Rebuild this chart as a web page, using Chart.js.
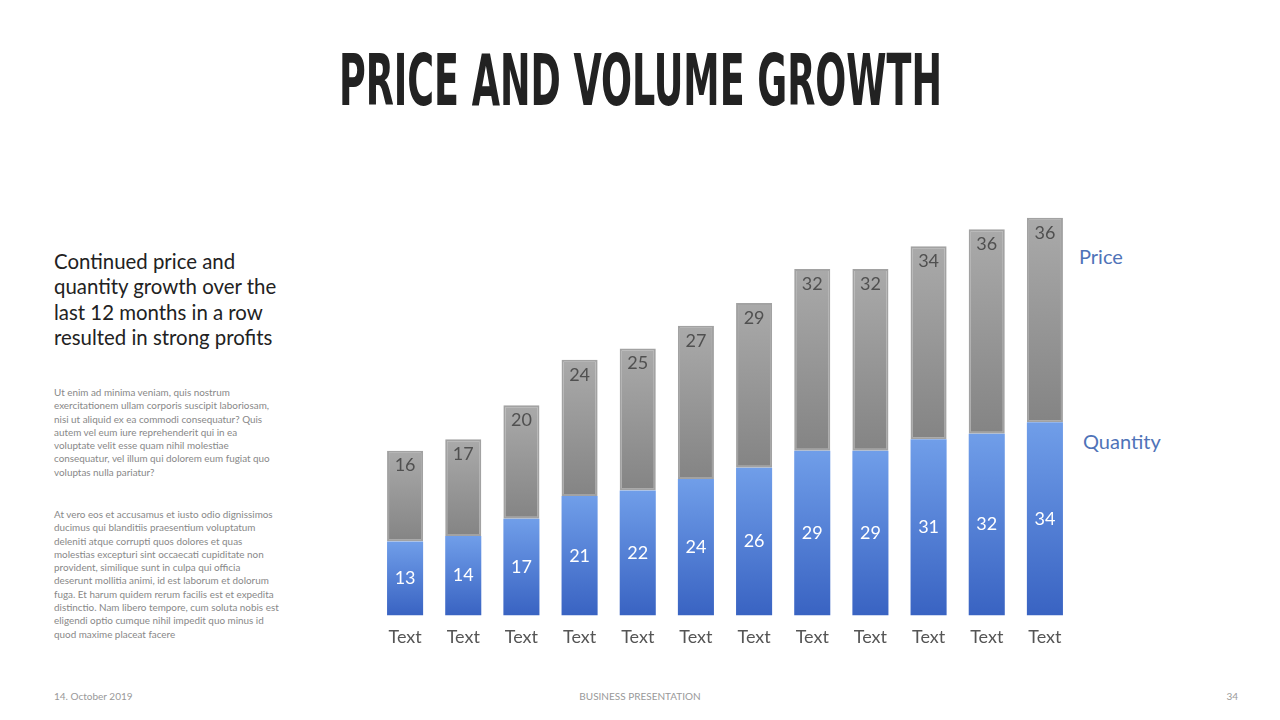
<!DOCTYPE html>
<html>
<head>
<meta charset="utf-8">
<script src="https://cdn.jsdelivr.net/npm/chart.js@4.4.0/dist/chart.umd.min.js"></script>
<style>
  body { margin: 0; width: 1280px; height: 720px; background: #fff; position: relative; overflow: hidden; font-family: Lato, "Open Sans", sans-serif; }
  #title { position: absolute; top: 44px; left: 0; width: 1280px; text-align: center; }
  #title span { display: inline-block; font-family: "Liberation Sans Narrow", "DejaVu Sans Condensed", sans-serif; font-weight: bold; font-size: 72px; color: #222; line-height: 72px; transform-origin: center center; white-space: nowrap; }
  #lead { position: absolute; left: 54px; top: 249px; font-size: 20.4px; line-height: 25.3px; color: #222; white-space: nowrap; }
  .body { position: absolute; left: 54px; font-size: 9.9px; line-height: 13.3px; color: #888; white-space: nowrap; }
  .foot { position: absolute; top: 690px; font-size: 10px; color: #999; }
  .legend { position: absolute; font-size: 20px; color: #4f73b8; }
  #wrap { position: absolute; left: 376px; top: 161px; width: 698px; height: 498px; }
</style>
</head>
<body>
<div id="title"><span>PRICE AND VOLUME GROWTH</span></div>

<div id="lead">Continued price and<br>quantity growth over the<br>last 12 months in a row<br>resulted in strong profits</div>

<div class="body" style="top:386px">Ut enim ad minima veniam, quis nostrum<br>exercitationem ullam corporis suscipit laboriosam,<br>nisi ut aliquid ex ea commodi consequatur? Quis<br>autem vel eum iure reprehenderit qui in ea<br>voluptate velit esse quam nihil molestiae<br>consequatur, vel illum qui dolorem eum fugiat quo<br>voluptas nulla pariatur?</div>

<div class="body" style="top:508px">At vero eos et accusamus et iusto odio dignissimos<br>ducimus qui blanditiis praesentium voluptatum<br>deleniti atque corrupti quos dolores et quas<br>molestias excepturi sint occaecati cupiditate non<br>provident, similique sunt in culpa qui officia<br>deserunt mollitia animi, id est laborum et dolorum<br>fuga. Et harum quidem rerum facilis est et expedita<br>distinctio. Nam libero tempore, cum soluta nobis est<br>eligendi optio cumque nihil impedit quo minus id<br>quod maxime placeat facere</div>

<div class="legend" style="left:1079px; top:244px">Price</div>
<div class="legend" style="left:1083px; top:429px">Quantity</div>

<div id="wrap"><canvas id="myChart"></canvas></div>

<div class="foot" style="left:54px">14. October 2019</div>
<div class="foot" style="left:0; width:1280px; text-align:center">BUSINESS PRESENTATION</div>
<div class="foot" style="right:42px">34</div>

<script>
const labels = ['Text', 'Text', 'Text', 'Text', 'Text', 'Text', 'Text', 'Text', 'Text', 'Text', 'Text', 'Text'];
const quantity = [13, 14, 17, 21, 22, 24, 26, 29, 29, 31, 32, 34];
const price = [16, 17, 20, 24, 25, 27, 29, 32, 32, 34, 36, 36];

// squeeze the title into the width of the original
const t = document.querySelector('#title span');
t.style.transform = 'scaleX(' + (603 / t.offsetWidth) + ')';

// each bar segment gets its own vertical gradient
function segGradient(stops) {
    return function (context) {
        const chart = context.chart;
        const y = chart.scales.y;
        if (!chart.chartArea || !y || context.dataIndex === undefined) return stops[0];
        const i = context.dataIndex;
        let lo = 0, hi = quantity[i];
        if (context.datasetIndex === 1) { lo = quantity[i]; hi = quantity[i] + price[i]; }
        const g = chart.ctx.createLinearGradient(0, y.getPixelForValue(hi), 0, y.getPixelForValue(lo));
        g.addColorStop(0, stops[0]);
        g.addColorStop(1, stops[1]);
        return g;
    };
}

const barLabels = {
    id: 'barLabels',
    afterDatasetsDraw(chart) {
        const ctx = chart.ctx;
        ctx.save();
        ctx.font = '18px Lato';
        ctx.textAlign = 'center';
        ctx.textBaseline = 'middle';
        chart.getDatasetMeta(0).data.forEach((bar, i) => {
            ctx.fillStyle = '#ffffff';
            ctx.fillText(quantity[i], bar.x, (bar.y + bar.base) / 2);
        });
        chart.getDatasetMeta(1).data.forEach((bar, i) => {
            ctx.fillStyle = '#505050';
            ctx.fillText(price[i], bar.x, bar.y + 15);
        });
        ctx.restore();
    }
};

new Chart(document.getElementById('myChart'), {
    type: 'bar',
    data: {
        labels: labels,
        datasets: [{
            label: 'Quantity',
            data: quantity,
            backgroundColor: segGradient(['#709ee9', '#3963c2']),
            borderWidth: 0
        }, {
            label: 'Price',
            data: price,
            backgroundColor: segGradient(['#aaaaaa', '#848484']),
            borderColor: '#a2a2a2',
            borderWidth: 2,
            borderSkipped: false
        }]
    },
    options: {
        responsive: true,
        maintainAspectRatio: false,
        animation: false,
        layout: { padding: 0 },
        datasets: { bar: { categoryPercentage: 1, barPercentage: 0.62 } },
        plugins: { legend: { display: false }, tooltip: { enabled: false } },
        scales: {
            x: {
                stacked: true,
                grid: { display: false, drawTicks: false },
                border: { display: false },
                ticks: { color: '#555', font: { family: 'Lato', size: 18 }, padding: 11 }
            },
            y: {
                stacked: true,
                display: false,
                min: 0,
                max: 80
            }
        }
    },
    plugins: [barLabels]
});
</script>
</body>
</html>
